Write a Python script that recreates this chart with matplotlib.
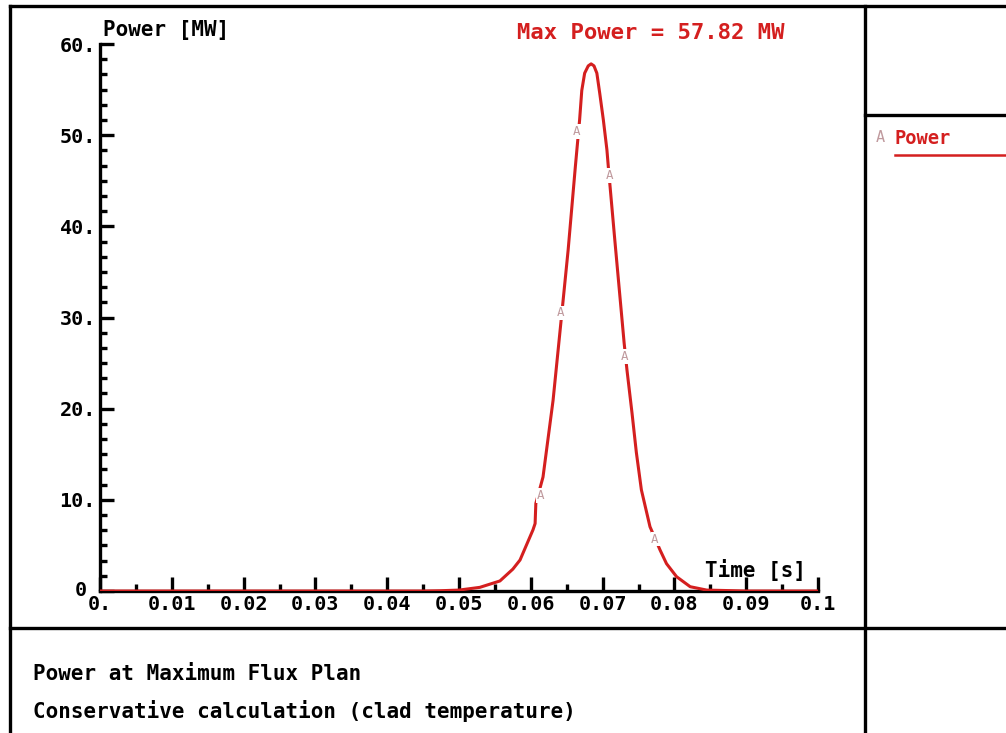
import numpy as np
import matplotlib.pyplot as plt
from matplotlib.lines import Line2D
from matplotlib.transforms import ScaledTranslation

# Kurve (Zeit in s, Leistung in MW)
time_s = [0.0, 0.040, 0.045, 0.0474, 0.050, 0.0529, 0.0557, 0.0575, 0.0585, 0.0603,
          0.0606, 0.0607, 0.0617, 0.0631, 0.0643, 0.0652, 0.0662, 0.0665, 0.0668,
          0.0671, 0.0675, 0.0680, 0.0684, 0.0688, 0.0692, 0.0696, 0.0701, 0.0706,
          0.0708, 0.0717, 0.0730, 0.0734, 0.0741, 0.0747, 0.0754, 0.0766, 0.0780,
          0.0789, 0.0803, 0.0822, 0.0845, 0.090, 0.1]
power_mw = [0.0, 0.0, 0.0, 0.03, 0.1, 0.4, 1.1, 2.4, 3.4, 6.7,
            7.4, 9.6, 12.5, 20.9, 30.3, 37.4, 46.5, 49.1, 51.7,
            54.9, 56.8, 57.6, 57.82, 57.6, 56.8, 54.6, 51.7, 48.4,
            46.5, 38.5, 27.2, 24.2, 19.5, 15.2, 11.1, 7.05, 4.5,
            3.0, 1.57, 0.47, 0.1, 0.0, 0.0]

# Positionen der "A"-Kennzeichnungen auf der Kurve
marker_t = [0.0613, 0.0642, 0.0664, 0.0709, 0.0731, 0.0773]
marker_p = [10.5, 30.5, 50.4, 45.6, 25.7, 5.7]

x_ticks = [0.0, 0.01, 0.02, 0.03, 0.04, 0.05, 0.06, 0.07, 0.08, 0.09, 0.1]
x_labels = ["0.", "0.01", "0.02", "0.03", "0.04", "0.05", "0.06", "0.07", "0.08", "0.09", "0.1"]
y_ticks = [0, 10, 20, 30, 40, 50, 60]
y_labels = ["0", "10.", "20.", "30.", "40.", "50.", "60."]
max_power = 57.82

red = "#d41f1f"
marker_col = "#c09a9e"
font = "DejaVu Sans Mono"

W, H = 1006, 733
fig = plt.figure(figsize=(W / 100, H / 100), dpi=100)

def fx(px):
    return px / W

def fy(py):
    return 1 - py / H

ax = fig.add_axes([fx(100), fy(591), fx(818) - fx(100), fy(44) - fy(591)])
ax.plot(time_s, power_mw, color=red, lw=2.2, zorder=3, solid_joinstyle="round")
for t, p in zip(marker_t, marker_p):
    ax.text(t, p, "A", color=marker_col, fontsize=9, ha="center", va="center", family=font,
            bbox=dict(facecolor="white", edgecolor="none", pad=0.5), zorder=4)

ax.set_xlim(0, 0.1)
ax.set_ylim(0, 60)
for s in ["top", "right"]:
    ax.spines[s].set_visible(False)
for s in ["left", "bottom"]:
    ax.spines[s].set_linewidth(2.4)

ax.set_xticks(x_ticks)
ax.set_xticklabels(x_labels)
ax.set_xticks(np.arange(0.005, 0.1, 0.01), minor=True)
ax.set_yticks(y_ticks)
ax.set_yticklabels(y_labels)
# 5 Zwischenstriche je Hauptintervall, wie im Original
y_minor = [v for a, b in zip(y_ticks[:-1], y_ticks[1:]) for v in np.linspace(a, b, 7)[1:-1]]
ax.set_yticks(y_minor, minor=True)
ax.tick_params(which="major", direction="in", length=10, width=2.4, labelsize=14.5)
ax.tick_params(which="minor", direction="in", length=5, width=2.4)
ax.tick_params(axis="x", which="major", pad=3)
ax.tick_params(axis="y", which="major", pad=3)
for lab in ax.get_xticklabels() + ax.get_yticklabels():
    lab.set_family(font)
    lab.set_fontweight("bold")

ax.text(0.983, 0.039, "Time [s]", transform=ax.transAxes, ha="right", va="center",
        fontsize=15, family=font, fontweight="bold")

fig.text(fx(103), fy(30), "Power [MW]", ha="left", va="center", fontsize=15,
         family=font, fontweight="bold")
fig.text(fx(651), fy(33), f"Max Power = {max_power} MW", ha="center", va="center",
         fontsize=16, family=font, fontweight="bold", color=red)

# Legende im rechten Feld
fig.text(fx(880), fy(138), "A", ha="center", va="center", fontsize=11, family=font, color=marker_col)
fig.text(fx(894), fy(138), "Power", ha="left", va="center", fontsize=13.5, family=font,
         fontweight="bold", color=red)
fig.add_artist(Line2D([fx(895), 1], [fy(155), fy(155)], color=red, lw=1.8))

# Textfeld unten
fig.text(fx(33), fy(674), "Power at Maximum Flux Plan", ha="left", va="center",
         fontsize=15, family=font, fontweight="bold")
fig.text(fx(33), fy(711), "Conservative calculation (clad temperature)", ha="left",
         va="center", fontsize=15, family=font, fontweight="bold")

# Rahmenlinien
frame_kw = dict(color="black", lw=2.4)
fig.add_artist(Line2D([fx(10), fx(10)], [0, fy(6)], **frame_kw))
fig.add_artist(Line2D([fx(10), 1], [fy(6), fy(6)], **frame_kw))
fig.add_artist(Line2D([fx(865), fx(865)], [0, fy(6)], **frame_kw))
fig.add_artist(Line2D([fx(10), 1], [fy(628), fy(628)], **frame_kw))
fig.add_artist(Line2D([fx(865), 1], [fy(115), fy(115)], **frame_kw))

# "0" der y-Achse etwas nach links/oben, damit es nicht auf "0." sitzt
zero_lab = ax.get_yticklabels()[0]
zero_lab.set_transform(zero_lab.get_transform() + ScaledTranslation(-9 / 100, 3 / 100, fig.dpi_scale_trans))

fig.savefig("out.png", dpi=100)
